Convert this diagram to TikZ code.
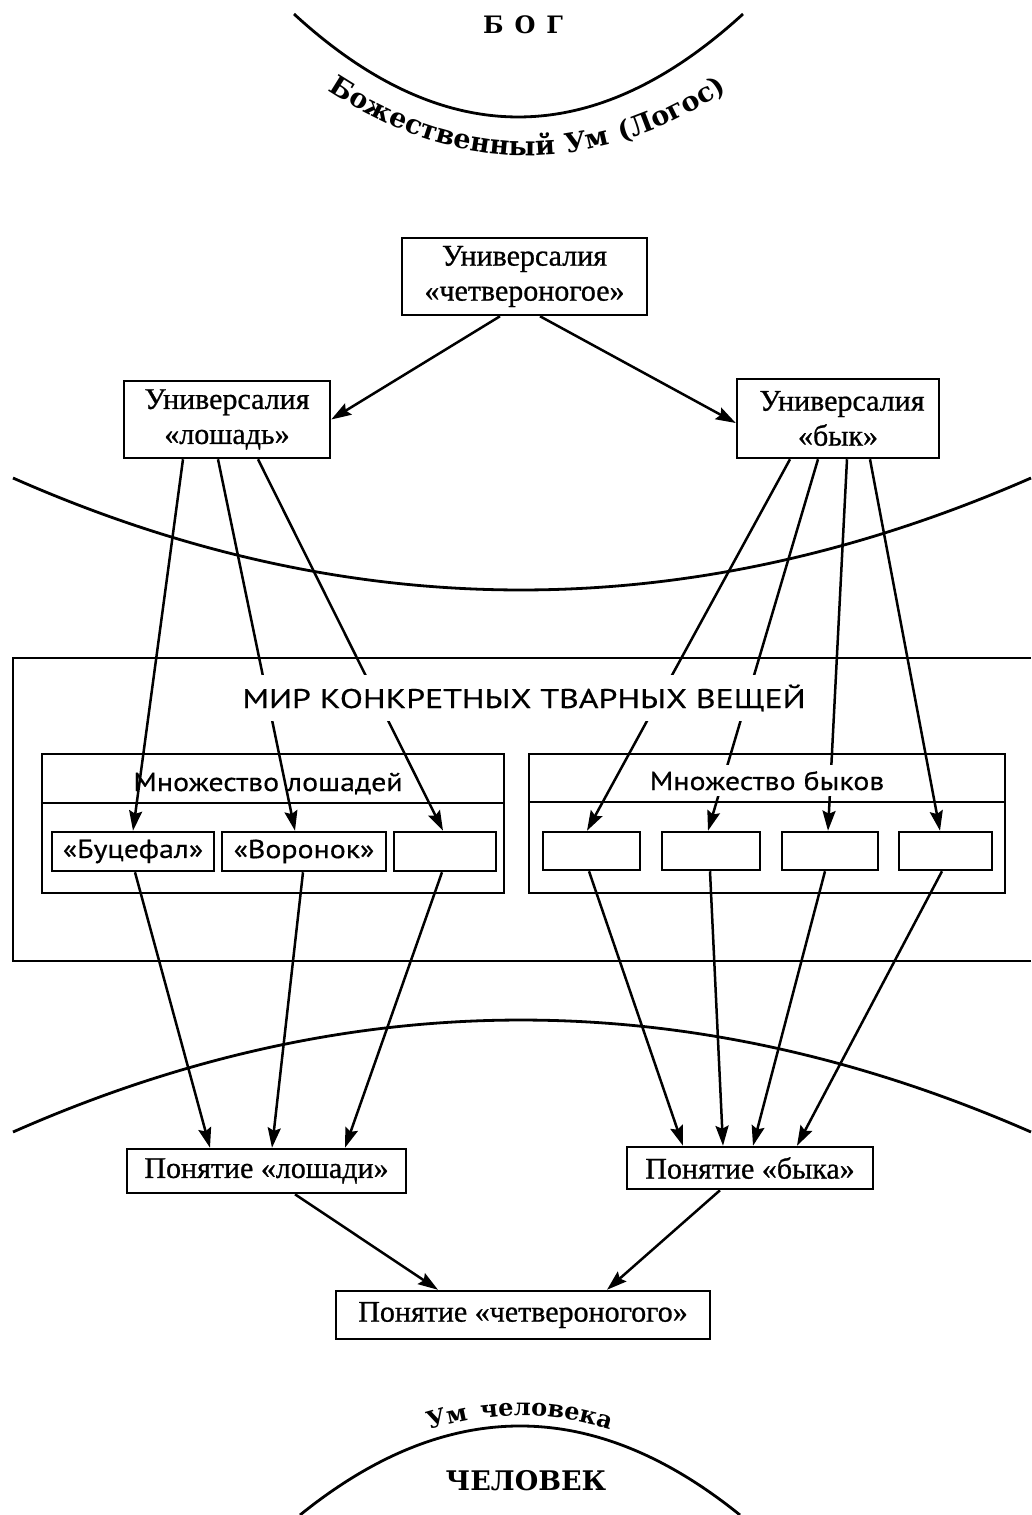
\documentclass[tikz,border=0pt]{standalone}
\usepackage{fontspec}
\setmainfont[FakeBold=0.8]{Liberation Serif}
\newfontfamily\setfam[FakeStretch=1.15,FakeBold=0.5]{PT Sans}
\newfontfamily\mirfam[FakeStretch=1.25,FakeBold=0.5]{PT Sans}
\newfontfamily\djs{DejaVu Serif}
\newfontfamily\djslogos[LetterSpace=5]{DejaVu Serif}
\newfontfamily\djsum[LetterSpace=16]{DejaVu Serif}
\usetikzlibrary{arrows.meta,decorations.text}
\newcommand\serifsz{\fontsize{30}{35}\selectfont}
\newcommand\setsz{\setfam\fontsize{26}{30}\selectfont}
\newcommand\mirsz{\mirfam\fontsize{27}{30}\selectfont}
\newcommand\logosfont{\djslogos\bfseries\fontsize{27}{32}\selectfont}
\newcommand\umfont{\djsum\bfseries\fontsize{24}{28}\selectfont}
\begin{document}
\begin{tikzpicture}[x=1pt,y=-1pt,
  box/.style={draw, line width=2.5pt, inner sep=0pt, align=center, font=\serifsz},
  cell/.style={draw, line width=2.5pt, inner sep=0pt, minimum height=39pt, font=\setsz},
  frame/.style={line width=2.5pt},
  arr/.style={line width=2.5pt, -{Stealth[length=20pt,width=13pt,inset=3pt]}},
  arcline/.style={line width=2.8pt},
  label/.style={inner sep=0pt, anchor=base}
]
\useasboundingbox (0,0) rectangle (1031,1515);

% arcs
\draw[arcline] (294,14) .. controls (443.3,151.3) and (593,151.3) .. (743,14);
\draw[arcline] (13,478) .. controls (351,627.3) and (690.3,627.3) .. (1031,478);
\draw[arcline] (13,1132) .. controls (351,982.7) and (690.3,982.7) .. (1031,1132);
\draw[arcline] (300,1515) .. controls (446.7,1396.3) and (593.3,1396.3) .. (740,1515);

% curved texts
\path[decorate, decoration={text along path, text={|\logosfont|Божественный Ум (Логос)}, text align=center}]
  (320,85) .. controls (458,179.3) and (597,179.3) .. (735,85);
\path[decorate, decoration={text along path, text={|\umfont|Ум человека}, text align=center}]
  (290,1507) .. controls (443.3,1385) and (596.7,1385) .. (750,1507);

\node[label, font=\djs\bfseries\fontsize{24}{28}\selectfont] (bog) at (523,33) {Б\hspace{11pt}О\hspace{11pt}Г};
\node[label, font=\djs\bfseries\fontsize{27}{30}\selectfont] (man) at (526,1490) {ЧЕЛОВЕК};

% world frame (open to the right)
\draw[frame] (1031,658) -- (13,658) -- (13,961) -- (1031,961);

% horse set
\node[draw, frame, minimum width=462pt, minimum height=139pt, inner sep=0pt] (hset) at (273,823.5) {};
\draw[frame] ([yshift=-50pt]hset.north west) -- ([yshift=-50pt]hset.north east);
\node[label, font=\setsz] (hlab) at (268,791) {Множество лошадей};

% cells
\node[cell, minimum width=162pt] (b1) at (133,851.5) {«Буцефал»};
\node[cell, minimum width=164pt] (b2) at (304,851.5) {«Воронок»};
\node[cell, minimum width=102pt] (b3) at (445,851.5) {};
\node[cell, minimum width=97pt, minimum height=38pt] (o1) at (591.5,851) {};
\node[cell, minimum width=98pt, minimum height=38pt] (o2) at (711,851) {};
\node[cell, minimum width=96pt, minimum height=38pt] (o3) at (830,851) {};
\node[cell, minimum width=93pt, minimum height=38pt] (o4) at (945.5,851) {};

% universals
\node[box, minimum width=245pt, minimum height=77pt] (uq) at (524.5,276.5) {Универсалия\\«четвероногое»};
\node[box, minimum width=206pt, minimum height=77pt] (uh) at (227,419.5) {Универсалия\\«лошадь»};
\node[box, minimum width=202pt, minimum height=79pt] (uo) at (838,418.5) {\hspace{8pt}Универсалия\\«бык»};

% concepts
\node[box, minimum width=279pt, minimum height=44pt] (ph) at (266.5,1171) {Понятие «лошади»};
\node[box, minimum width=246pt, minimum height=42pt] (po) at (750,1168) {Понятие «быка»};
\node[box, minimum width=374pt, minimum height=48pt] (pq) at (523,1315) {Понятие «четвероногого»};

% arrows
\draw[arr] ([xshift=-24.5pt]uq.south) -- (uh.east);
\draw[arr] ([xshift=15.5pt]uq.south) -- ([yshift=-4.5pt]uo.west);

\draw[arr] ([xshift=-44pt]uh.south) -- (b1.north);
\draw[arr] ([xshift=-9pt]uh.south) -- ([xshift=-9pt]b2.north);
\draw[arr] ([xshift=31pt]uh.south) -- ([xshift=-2pt]b3.north);

\draw[arr] ([xshift=-48pt]uo.south) -- ([xshift=-4.5pt]o1.north);
\draw[arr] ([xshift=-20pt]uo.south) -- ([xshift=-3pt]o2.north);
\draw[arr] ([xshift=9pt]uo.south) -- ([xshift=-2pt]o3.north);
\draw[arr] ([xshift=32pt]uo.south) -- ([xshift=-5.5pt]o4.north);

\draw[arr] ([xshift=2pt]b1.south) -- ([xshift=-56.5pt]ph.north);
\draw[arr] ([xshift=-1pt]b2.south) -- ([xshift=5.5pt]ph.north);
\draw[arr] ([xshift=-3pt]b3.south) -- ([xshift=78.5pt]ph.north);

\draw[arr] ([xshift=-2.5pt]o1.south) -- ([xshift=-67pt]po.north);
\draw[arr] ([xshift=-1pt]o2.south) -- ([xshift=-27pt]po.north);
\draw[arr] ([xshift=-5pt]o3.south) -- ([xshift=3pt]po.north);
\draw[arr] ([xshift=-3.5pt]o4.south) -- ([xshift=47pt]po.north);

\draw[arr] ([xshift=28.5pt]ph.south) -- ([xshift=-85pt]pq.north);
\draw[arr] ([xshift=-30pt]po.south) -- ([xshift=84pt]pq.north);

% labels that interrupt the arrows
\node[label, font=\mirsz, fill=white, inner xsep=2pt, inner ysep=10pt] (mir) at (524,708) {МИР КОНКРЕТНЫХ ТВАРНЫХ ВЕЩЕЙ};
\node[label, font=\setsz, fill=white, inner xsep=2pt, inner ysep=6pt] (olab) at (767,790) {Множество быков};

% ox set (drawn after its label)
\node[draw, frame, minimum width=476pt, minimum height=139pt, inner sep=0pt] (oset) at (767,823.5) {};
\draw[frame] ([yshift=-49pt]oset.north west) -- ([yshift=-49pt]oset.north east);
\end{tikzpicture}
\end{document}
